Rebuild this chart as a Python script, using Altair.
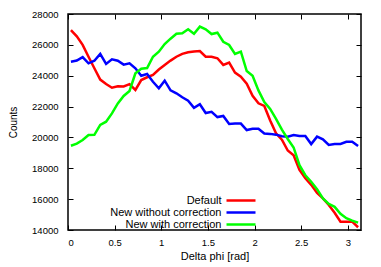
import math
import pandas as pd
import altair as alt

n_bins = 50
bin_centers = [round((k + 0.5) * math.pi / n_bins, 4) for k in range(n_bins)]

default = [26950, 26550, 26000, 25230, 24480, 23750, 23460, 23220, 23320, 23300,
           23450, 23075, 23720, 23900, 24050, 24400, 24700, 24980, 25230, 25420,
           25520, 25570, 25600, 25230, 25230, 25130, 24700, 24850, 24200, 23940,
           23480, 22700, 22210, 22040, 21100, 20270, 19850, 19150, 18850, 17900,
           17350, 16930, 16400, 16050, 15620, 15120, 14540, 14540, 14540, 14180]

new_without = [24910, 24980, 25200, 24800, 24970, 25410, 24760, 25060, 24970, 24720,
               24800, 24480, 24000, 24110, 23610, 23180, 23680, 23050, 22860, 22600,
               22380, 21920, 22150, 21580, 21660, 21320, 21390, 20870, 20900, 20900,
               20480, 20560, 20560, 20250, 20230, 20180, 20080, 20050, 20160, 20090,
               20090, 19570, 20050, 19880, 19510, 19570, 19580, 19720, 19720, 19450]

new_with = [19460, 19600, 19830, 20160, 20170, 20810, 21020, 21560, 22200, 22690,
            23010, 24160, 24450, 24500, 25230, 25560, 26050, 26400, 26720, 26750,
            27010, 26720, 27180, 27010, 26700, 26790, 26200, 25990, 25410, 25560,
            24300, 24000, 23050, 22300, 21850, 21200, 20500, 19900, 19350, 18200,
            17550, 17130, 16650, 16050, 15690, 15500, 15050, 14760, 14610, 14480]

series_names = ["Default", "New without correction", "New with correction"]
series_colors = ["#ff0000", "#0000ff", "#00ff00"]
x_ticks = [0, 0.5, 1, 1.5, 2, 2.5, 3]
y_ticks = [14000, 16000, 18000, 20000, 22000, 24000, 26000, 28000]

rows = []
for name, vals in zip(series_names, [default, new_without, new_with]):
    for i, (xv, yv) in enumerate(zip(bin_centers, vals)):
        rows.append({"x": xv, "y": yv, "series": name, "i": i})
df = pd.DataFrame(rows)

FONT = "Liberation Sans"
xscale = alt.Scale(domain=[0, math.pi], nice=False, zero=False)
yscale = alt.Scale(domain=[14000, 28000], nice=False, zero=False)

common_axis = dict(grid=False, domain=False, tickColor="black", tickWidth=1,
                   tickSize=5, offset=-5, labelFont=FONT, labelFontSize=9.5,
                   labelColor="black", titleFont=FONT, titleFontWeight="normal",
                   titleColor="black")

lines = alt.Chart(df).mark_line(strokeWidth=2.5).encode(
    x=alt.X("x:Q", scale=xscale,
            axis=alt.Axis(orient="bottom", values=x_ticks, format="~g",
                          title="Delta phi [rad]", titleFontSize=11,
                          labelPadding=7, titlePadding=4, **common_axis)),
    y=alt.Y("y:Q", scale=yscale,
            axis=alt.Axis(orient="left", values=y_ticks, format="d",
                          title="Counts", titleFontSize=10,
                          labelPadding=10, titlePadding=13, **common_axis)),
    color=alt.Color("series:N",
                    scale=alt.Scale(domain=series_names, range=series_colors),
                    legend=alt.Legend(title=None, orient="none", legendX=166.5,
                                      legendY=180, padding=0,
                                      rowPadding={"expr": "-1.2"},
                                      symbolType="M-2.9,0H2.9", symbolSize=100,
                                      symbolStrokeWidth=2.5, labelAlign="right",
                                      labelOffset={"expr": "-26"}, labelFont=FONT,
                                      labelFontSize=11, labelColor="black")),
    order="i:Q",
)

mirror = alt.Chart(df).mark_line(opacity=0).encode(
    x=alt.X("x:Q", scale=xscale,
            axis=alt.Axis(orient="top", values=x_ticks, labels=False, title=None,
                          **common_axis)),
    y=alt.Y("y:Q", scale=yscale,
            axis=alt.Axis(orient="right", values=y_ticks, labels=False, title=None,
                          **common_axis)),
    detail="series:N",
)

chart = alt.layer(lines, mirror).resolve_axis(
    x="independent", y="independent"
).properties(
    width=293, height=216,
    autosize=alt.AutoSizeParams(type="none"),
    padding={"left": 60, "top": 6, "right": 12, "bottom": 33},
).configure_view(stroke="black", strokeWidth=1.5)

chart.save("out.html", embed_options={"renderer": "svg", "actions": False})
